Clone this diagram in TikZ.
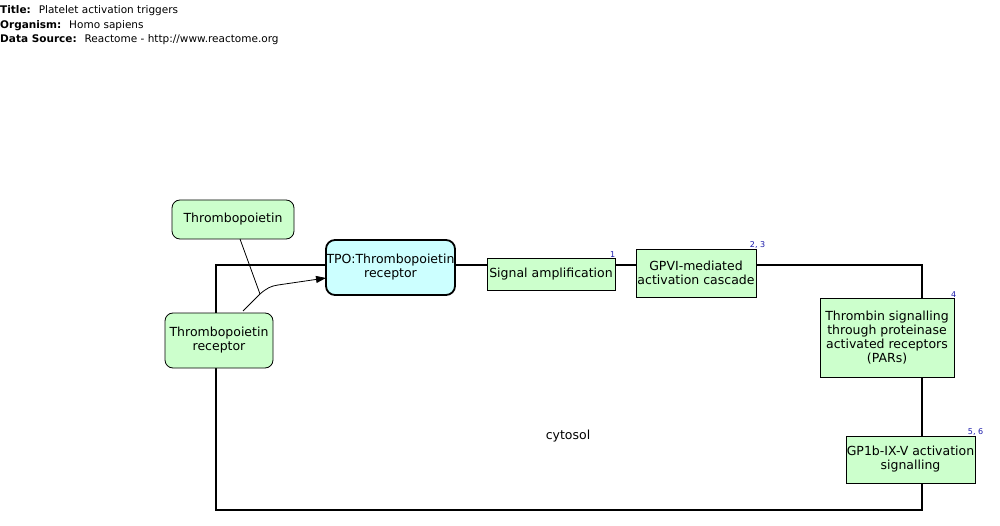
\documentclass[tikz,border=0pt]{standalone}
\usepackage{fontspec}
\setmainfont{DejaVu Sans}
\usetikzlibrary{arrows.meta}
\definecolor{mgreen}{HTML}{CCFFCC}
\definecolor{mcyan}{HTML}{CCFFFF}
\definecolor{refblue}{HTML}{1A1AAA}
\begin{document}
\begin{tikzpicture}[x=1pt,y=-1pt,
  entity/.style={draw=black,line width=0.8pt,fill=mgreen,inner sep=0pt,align=center,
    font=\fontsize{12.5}{14}\selectfont},
  roundent/.style={entity,rounded corners=8pt},
  pathway/.style={entity},
  complexent/.style={entity,fill=mcyan,rounded corners=9pt,line width=1.8pt},
  refnum/.style={font=\fontsize{8}{8}\selectfont,text=refblue,inner sep=0pt},
  compartment/.style={draw=black,line width=1.8pt},
  infolabel/.style={anchor=base west,inner sep=0pt,font=\fontsize{10.5}{12}\selectfont}]
\useasboundingbox (0,0) rectangle (1000,526);

% header
\node[infolabel] (title) at (0,14) {\textbf{Title:}\hspace{0.75em}Platelet activation triggers};
\node[infolabel] (organism) at (0,28.5) {\textbf{Organism:}\hspace{0.75em}Homo sapiens};
\node[infolabel] (source) at (0,43) {\textbf{Data Source:}\hspace{0.75em}Reactome - http://www.reactome.org};

% cytosol compartment
\draw[compartment] (216,265) rectangle (922,510);
\node[font=\fontsize{12.5}{14}\selectfont] (cytosol) at (568,436) {cytosol};

% entities
\node[roundent,minimum width=122pt,minimum height=39pt] (tpo) at (233,219.5) {Thrombopoietin};
\node[roundent,minimum width=108pt,minimum height=55pt] (tpor) at (219,340.5) {Thrombopoietin\\receptor};
\node[complexent,minimum width=129pt,minimum height=55pt] (cplx) at (390.5,267.5) {TPO:Thrombopoietin\\receptor};

% pathway boxes
\node[pathway,minimum width=128pt,minimum height=32pt] (sigamp) at (551,274) {Signal amplification};
\node[pathway,minimum width=120pt,minimum height=48pt] (gpvi) at (696,273) {GPVI-mediated\\activation cascade};
\node[pathway,minimum width=134pt,minimum height=79pt] (thrombin) at (887,337.5) {Thrombin signalling\\through proteinase\\activated receptors\\(PARs)};
\node[pathway,minimum width=129pt,minimum height=47pt] (gp1b) at (910.5,459.5) {GP1b-IX-V activation\\signalling};

% literature references
\node[refnum,anchor=south east] (r1) at (sigamp.north east) {1};
\node[refnum,anchor=south east] (r23) at ([xshift=9pt]gpvi.north east) {2, 3};
\node[refnum,anchor=south east] (r4) at ([xshift=2pt]thrombin.north east) {4};
\node[refnum,anchor=south east] (r56) at ([xshift=8pt]gp1b.north east) {5, 6};

% binding reaction
\coordinate (tpoout) at (240,239);
\coordinate (tporout) at (243,311);
\coordinate (junction) at (260,294);
\coordinate (cplxin) at (326,278);
\draw[line width=0.8pt] (tpoout) -- (junction);
\draw[line width=0.8pt,-{Triangle[length=10pt,width=7pt]}]
  (tporout) -- (junction) .. controls (267,288) and (271,286) .. (278,285) -- (cplxin);
\end{tikzpicture}
\end{document}
